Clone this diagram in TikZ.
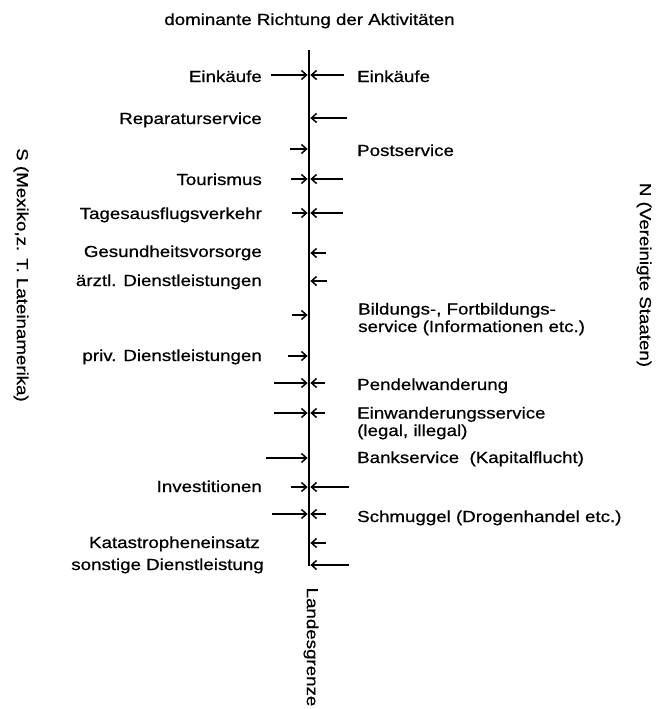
\documentclass[tikz,border=0pt]{standalone}
\usepackage{fontspec}
\setmainfont{Liberation Sans}[FakeStretch=1.17,FakeBold=0.6]
\usetikzlibrary{arrows.meta}
\begin{document}
\begin{tikzpicture}[x=1pt,y=-1pt,
  lbl/.style={font=\fontsize{16}{17.5}\selectfont, inner sep=0pt, text=black},
  flow/.style={line width=1.5pt, -{Straight Barb[length=5pt,width=9pt]}},
  grenze/.style={line width=2.2pt}]
\fill[white] (0,0) rectangle (658,709);
\useasboundingbox (0,0) rectangle (658,709);

\node[lbl, anchor=base] (title) at (309.5,25) {dominante Richtung der Aktivitäten};

\coordinate (top) at (309,50);
\coordinate (bot) at (309,566);
\draw[grenze] (top) -- (bot);

% arrows from the south (left)
\foreach \yy/\tx [count=\i] in {75/271,149/290,179/291,213/292,315/292,356/288,383/274,413/274,458/266,487/291,514/272} {
  \coordinate (LT\i) at (\tx,\yy);
  \coordinate (LH\i) at (307.6,\yy);
  \draw[flow] (LT\i) -- (LH\i);
}
% arrows from the north (right)
\foreach \yy/\tx [count=\i] in {75/344,118/347,179/343,213/343,253/326,281/327,383/325,413/325,487/349,514/326,543/326,565/349} {
  \coordinate (RT\i) at (\tx,\yy);
  \coordinate (RH\i) at (310.4,\yy);
  \draw[flow] (RT\i) -- (RH\i);
}

% left labels
\node[lbl, anchor=base east] (sl1) at (262,82) {Einkäufe};
\node[lbl, anchor=base east] (sl2) at (262,124) {Reparaturservice};
\node[lbl, anchor=base east] (sl3) at (262,185) {Tourismus};
\node[lbl, anchor=base east] (sl4) at (262,219) {Tagesausflugsverkehr};
\node[lbl, anchor=base east] (sl5) at (262,257) {Gesundheitsvorsorge};
\node[lbl, anchor=base east] (sl6) at (262,286) {ärztl. Dienstleistungen};
\node[lbl, anchor=base east] (sl7) at (262,361) {priv. Dienstleistungen};
\node[lbl, anchor=base east] (sl8) at (262,492) {Investitionen};
\node[lbl, anchor=base east] (sl9) at (260,548) {Katastropheneinsatz};
\node[lbl, anchor=base east] (sl10) at (264,570) {sonstige Dienstleistung};

% right labels
\node[lbl, anchor=base west] (nl1) at (357,82) {Einkäufe};
\node[lbl, anchor=base west] (nl2) at (357,156) {Postservice};
\node[lbl, anchor=base west, align=left] (nl3) at (358,332) {Bildungs-, Fortbildungs-\\service (Informationen etc.)};
\node[lbl, anchor=base west] (nl4) at (357,390) {Pendelwanderung};
\node[lbl, anchor=base west, align=left] (nl5) at (357,436) {Einwanderungsservice\\(legal, illegal)};
\node[lbl, anchor=base west] (nl6) at (357,463) {Bankservice\ \ (Kapitalflucht)};
\node[lbl, anchor=base west] (nl7) at (357,522) {Schmuggel (Drogenhandel etc.)};

% rotated side labels
\node[lbl, rotate=-90] (south) at (21,275) {S (Mexiko,z. T. Lateinamerika)};
\node[lbl, rotate=-90] (north) at (644,275) {N (Vereinigte Staaten)};
\node[lbl, rotate=-90] (border) at (311,647) {Landesgrenze};
\end{tikzpicture}
\end{document}
